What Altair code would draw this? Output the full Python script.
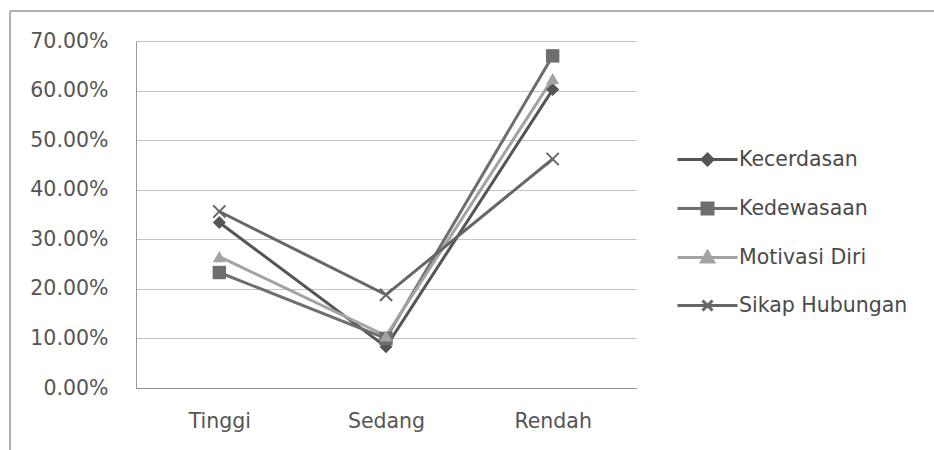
import altair as alt
import pandas as pd

# Levels on the x axis and the four measured aspects
categories = ["Tinggi", "Sedang", "Rendah"]
series = ["Kecerdasan", "Kedewasaan", "Motivasi Diri", "Sikap Hubungan"]

# Share of respondents per level (fractions, shown as percentages)
kecerdasan = [0.334, 0.083, 0.602]
kedewasaan = [0.233, 0.100, 0.670]
motivasi_diri = [0.265, 0.105, 0.624]
sikap_hubungan = [0.356, 0.188, 0.462]

y_ticks = [0.0, 0.1, 0.2, 0.3, 0.4, 0.5, 0.6, 0.7]

colors = ["#555555", "#6e6e6e", "#a3a3a3", "#666666"]
fills = ["#555555", "#6e6e6e", "#a3a3a3", "transparent"]
marker_shapes = ["diamond", "square", "triangle-up", "M-1,-1L1,1M-1,1L1,-1"]
marker_filled = [True, True, True, False]
marker_sizes = [170, 180, 170, 150]

# Legend glyphs: a short line with the series marker in the middle
legend_paths = [
    "M-1.2,0L1.2,0M-0.22,0L0,-0.22L0.22,0L0,0.22Z",
    "M-1.2,0L1.2,0M-0.22,-0.22L0.22,-0.22L0.22,0.22L-0.22,0.22Z",
    "M-1.2,0L1.2,0M0,-0.24L0.24,0.18L-0.24,0.18Z",
    "M-1.2,0L1.2,0M-0.2,-0.2L0.2,0.2M-0.2,0.2L0.2,-0.2",
]

values = [kecerdasan, kedewasaan, motivasi_diri, sikap_hubungan]
rows = []
for name, vals in zip(series, values):
    for cat, v in zip(categories, vals):
        rows.append({"Level": cat, "Aspek": name, "Nilai": v})
df = pd.DataFrame(rows)

FONT = "DejaVu Sans"
TEXT = "#555555"
FS = 20.5

x_enc = alt.X(
    "Level:N",
    sort=categories,
    scale=alt.Scale(type="point", padding=0.5),
    axis=alt.Axis(
        title=None, labelAngle=0, ticks=False, grid=False,
        labelPadding=23, labelFont=FONT, labelFontSize=FS, labelColor=TEXT,
        domainColor="#8c8c8c", domainWidth=1.2,
    ),
)
y_enc = alt.Y(
    "Nilai:Q",
    scale=alt.Scale(domain=[0, 0.7], nice=False),
    axis=alt.Axis(
        title=None, values=y_ticks, format=".2%", ticks=False,
        labelPadding=28, labelFont=FONT, labelFontSize=FS, labelColor=TEXT,
        gridColor="#c4c4c4", gridWidth=1.2,
        domainColor="#9a9a9a", domainWidth=1,
    ),
)

color_scale = alt.Scale(domain=series, range=colors)

legend_def = alt.Legend(
    title=None,
    orient="none",
    legendX=545,
    legendY=92,
    padding=0,
    rowPadding=11,
    symbolSize=2500,
    symbolStrokeWidth=3,
    symbolOpacity=1,
    labelOffset=5,
    labelLimit=400,
    labelFont=FONT,
    labelFontSize=FS,
    labelColor="#4a4a4a",
)

color_enc = alt.Color("Aspek:N", scale=color_scale, legend=legend_def)

base = alt.Chart(df)

lines = base.mark_line(strokeWidth=3).encode(
    x=x_enc,
    y=y_enc,
    color=color_enc,
    order=alt.Order("Level:N"),
)

# One marker layer per aspect, each with its own glyph
marker_layers = []
for name, shp, filled, size in zip(series, marker_shapes, marker_filled, marker_sizes):
    marker_layers.append(
        base.transform_filter(alt.datum.Aspek == name)
        .mark_point(shape=shp, filled=filled, size=size, strokeWidth=2, opacity=1)
        .encode(x=x_enc, y=y_enc, color=color_enc)
    )

# Legend-only layer: no marks drawn, entries come from the explicit domains
legend_layer = (
    base.transform_filter("false")
    .mark_point(filled=False, strokeWidth=3, opacity=1)
    .encode(
        x=x_enc,
        y=y_enc,
        color=color_enc,
        shape=alt.Shape("Aspek:N", scale=alt.Scale(domain=series, range=legend_paths), legend=legend_def),
        fill=alt.Fill("Aspek:N", scale=alt.Scale(domain=series, range=fills), legend=legend_def),
    )
)

# Outer frame of the figure (top and left edges)
frame_top = base.mark_rule(color="#b0b0b0", strokeWidth=1.5).encode(
    x=alt.value(-126), x2=alt.value(798), y=alt.value(-30)
)
frame_left = base.mark_rule(color="#b0b0b0", strokeWidth=1.5).encode(
    x=alt.value(-126), y=alt.value(-30), y2=alt.value(420)
)

chart = (
    alt.layer(frame_top, frame_left, lines, *marker_layers, legend_layer)
    .properties(
        width=500,
        height=347,
        autosize=alt.AutoSizeParams(type="none"),
        padding={"left": 136, "top": 41, "right": 298, "bottom": 62},
        background="white",
    )
    .configure_view(stroke=None)
)

chart.save("out.html", embed_options={"renderer": "svg", "actions": False})
